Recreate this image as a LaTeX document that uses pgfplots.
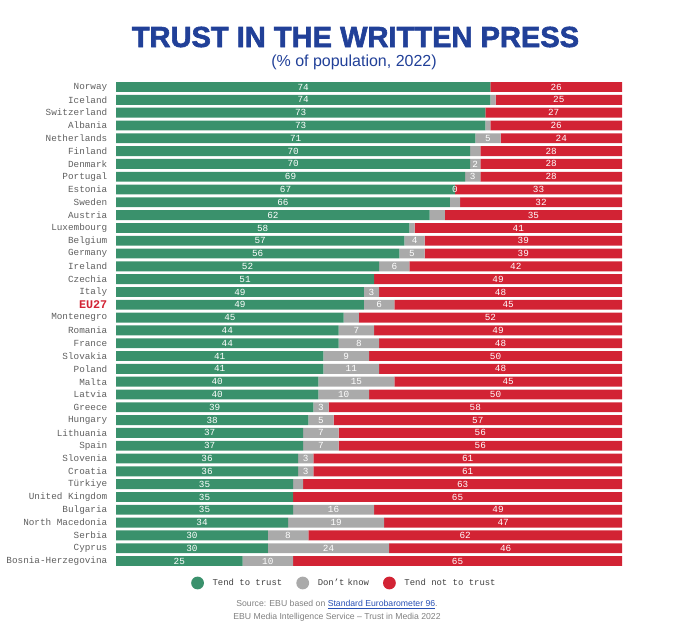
\documentclass[border=0pt]{standalone}
\usepackage{pgfplots}
\pgfplotsset{compat=1.18}
\usepackage{pgfplotstable}
\usepackage{fontspec}
\setmainfont{Liberation Sans}
\newfontfamily\monofont{Liberation Mono}
\newfontfamily\titlefont[FakeBold=2]{Liberation Sans Bold}
\definecolor{cgreen}{RGB}{58,145,108}
\definecolor{cgray}{RGB}{170,170,170}
\definecolor{cred}{RGB}{210,35,52}
\definecolor{ctitle}{RGB}{33,64,152}
\definecolor{clabel}{RGB}{95,95,95}
\definecolor{clink}{RGB}{40,80,180}
\pgfplotstableread{
idx trust dk not dklab
0 74 0 26 {}
1 74 1 25 {}
2 73 0 27 {}
3 73 1 26 {}
4 71 5 24 5
5 70 2 28 {}
6 70 2 28 2
7 69 3 28 3
8 67 0 33 0
9 66 2 32 {}
10 62 3 35 {}
11 58 1 41 {}
12 57 4 39 4
13 56 5 39 5
14 52 6 42 6
15 51 0 49 {}
16 49 3 48 3
17 49 6 45 6
18 45 3 52 {}
19 44 7 49 7
20 44 8 48 8
21 41 9 50 9
22 41 11 48 11
23 40 15 45 15
24 40 10 50 10
25 39 3 58 3
26 38 5 57 5
27 37 7 56 7
28 37 7 56 7
29 36 3 61 3
30 36 3 61 3
31 35 2 63 {}
32 35 0 65 {}
33 35 16 49 16
34 34 19 47 19
35 30 8 62 8
36 30 24 46 24
37 25 10 65 10
}\data
\begin{document}
\begin{tikzpicture}
\useasboundingbox (0,0) rectangle (510pt,-469.5pt);
\node[font=\titlefont\fontsize{21.8}{26}\selectfont, text=ctitle] at (266.6pt,-27.75pt) {TRUST IN THE WRITTEN PRESS};
\node[font=\fontsize{12}{14}\selectfont, text=ctitle] at (265.5pt,-46.5pt) {(\% of population, 2022)};
\begin{axis}[
  at={(87pt,-60.45pt)}, anchor=north west,
  scale only axis, width=379.5pt, height=365.1pt,
  xbar stacked, bar width=7.4pt,
  xmin=0, xmax=100, ymin=-0.5, ymax=37.5, y dir=reverse,
  enlargelimits=false, clip=false,
  axis line style={draw=none}, major tick length=0pt,
  xtick=\empty,
  ytick={0,...,37},
  yticklabels={Norway,Iceland,Switzerland,Albania,Netherlands,Finland,Denmark,Portugal,Estonia,Sweden,Austria,Luxembourg,Belgium,Germany,Ireland,Czechia,Italy,{\textcolor{cred}{\fontsize{8.8}{9}\selectfont\bfseries EU27}},Montenegro,Romania,France,Slovakia,Poland,Malta,Latvia,Greece,Hungary,Lithuania,Spain,Slovenia,Croatia,Türkiye,United Kingdom,Bulgaria,North Macedonia,Serbia,Cyprus,Bosnia-Herzegovina},
  yticklabel style={font=\monofont\fontsize{7}{8}\selectfont, text=clabel, anchor=east, xshift=-3pt},
  legend style={at={(0.452,-0.032)}, anchor=center, legend columns=3, draw=none, fill=none,
    font=\monofont\fontsize{6.7}{8}\selectfont, text=black!75,
    /tikz/every even column/.append style={column sep=8.5pt}},
]
\addplot[fill=cgreen, draw=none,
  legend image code/.code={\fill[cgreen] (0.3cm,0cm) circle (4.8pt); \path (0.3cm+9.3pt,0cm);}]
  table[x=trust, y=idx]{\data};
\addlegendentry{Tend to trust}
\addplot[fill=cgray, draw=none,
  legend image code/.code={\fill[cgray] (0.3cm,0cm) circle (4.8pt); \path (0.3cm+9.3pt,0cm);}]
  table[x=dk, y=idx]{\data};
\addlegendentry{Don’t\,\,know}
\addplot[fill=cred, draw=none,
  legend image code/.code={\fill[cred] (0.3cm,0cm) circle (4.8pt); \path (0.3cm+9.3pt,0cm);}]
  table[x=not, y=idx]{\data};
\addlegendentry{Tend not to trust}
\end{axis}
\begin{axis}[
  at={(87pt,-60.45pt)}, anchor=north west,
  scale only axis, width=379.5pt, height=365.1pt,
  xmin=0, xmax=100, ymin=-0.5, ymax=37.5, y dir=reverse,
  enlargelimits=false, clip=false, hide axis,
  nodes near coords align={center},
  every node near coord/.append style={font=\monofont\fontsize{7}{7}\selectfont, text=white, anchor=center, inner sep=0pt},
  point meta=explicit symbolic,
]
\addplot[draw=none, mark=none, nodes near coords]
  table[x expr=\thisrow{trust}/2, y=idx, meta=trust]{\data};
\addplot[draw=none, mark=none, nodes near coords]
  table[x expr=\thisrow{trust}+\thisrow{dk}/2, y=idx, meta=dklab]{\data};
\addplot[draw=none, mark=none, nodes near coords]
  table[x expr=\thisrow{trust}+\thisrow{dk}+\thisrow{not}/2, y=idx, meta=not]{\data};
\end{axis}
\node[font=\fontsize{6.5}{7}\selectfont, text=gray] at (252.75pt,-453.75pt) {Source: EBU based on \textcolor{clink}{\underline{Standard Eurobarometer 96}}.};
\node[font=\fontsize{6.5}{7}\selectfont, text=gray] at (252.75pt,-462.75pt) {EBU Media Intelligence Service -- Trust in Media 2022};
\end{tikzpicture}
\end{document}
